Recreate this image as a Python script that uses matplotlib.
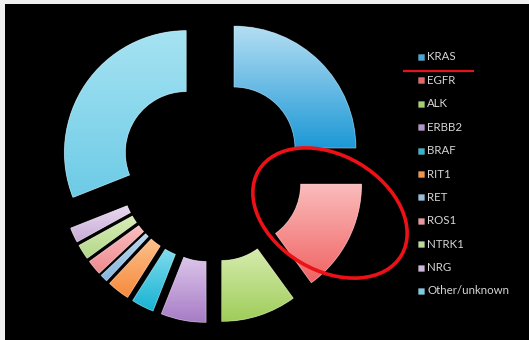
import numpy as np
import matplotlib
matplotlib.use("Agg")
import matplotlib.pyplot as plt
from matplotlib.patches import Ellipse, Rectangle, PathPatch
from matplotlib.colors import LinearSegmentedColormap

# Driver alterations (share of cases, %)
categories = ["KRAS", "EGFR", "ALK", "ERBB2", "BRAF", "RIT1", "RET",
              "ROS1", "NTRK1", "NRG", "Other/unknown"]
shares = [25, 15, 10, 6, 3, 3, 1, 2, 2, 2, 31]

# Slice shading: light tone at the top, deeper tone at the bottom
top_colors = ["#b4def3", "#fbbcbc", "#d6ecae", "#dcc6ea", "#7fdcee", "#fcc08c",
              "#bcd9ef", "#fbbfc1", "#d9edb8", "#ead9f0", "#a6e3f2"]
bottom_colors = ["#1d98d6", "#f06262", "#9fcd5a", "#a77cc6", "#17b2d2", "#f6893a",
                 "#84b6df", "#ee8a8f", "#b3d889", "#c7acd6", "#6dcbe6"]
legend_colors = ["#3ea8de", "#ea6466", "#a5d06a", "#b292cc", "#2ab8d6", "#f39448",
                 "#92bde2", "#ef9498", "#badc98", "#cdb7da", "#76cfe8"]

W, H = 529, 340
fig = plt.figure(figsize=(W / 100, H / 100), dpi=100, facecolor="black")
ax = fig.add_axes([0, 0, 1, 1])
ax.set_facecolor("black")

R = 122
ring = 61
offset = 31
cx, cy = 212, 170

wedges, _ = ax.pie(shares, radius=R, center=(cx, cy), startangle=90,
                   counterclock=False, explode=[offset] * len(shares),
                   wedgeprops=dict(width=ring, linewidth=0), frame=True)

grad = np.linspace(0, 1, 256).reshape(-1, 1)
for w, c_top, c_bot in zip(wedges, top_colors, bottom_colors):
    w.set_facecolor(c_bot)
    path = w.get_path().transformed(w.get_patch_transform())
    ext = path.get_extents()
    cmap = LinearSegmentedColormap.from_list("shade", [c_bot, c_top])
    im = ax.imshow(grad, extent=(ext.x0, ext.x1, ext.y0, ext.y1), origin="lower",
                   cmap=cmap, aspect="auto", interpolation="bilinear", zorder=2)
    im.set_clip_path(w)
    ax.add_patch(PathPatch(path, facecolor="none", edgecolor=(1, 1, 1, 0.35),
                           linewidth=0.7, zorder=3))

# Legend
row0, step = 57, 23.4
for i, (lab, col) in enumerate(zip(categories, legend_colors)):
    y = H - (row0 + i * step)
    ax.add_patch(Rectangle((418, y - 3), 6, 6, facecolor=col,
                           edgecolor=(1, 1, 1, 0.3), linewidth=0.4, zorder=4))
    ax.text(427, y, lab, color="#d6d6d6", fontsize=8.3, va="center", ha="left",
            family="Lato", zorder=4)

# Highlight marks
ax.plot([403, 474], [H - 71, H - 71], color="#e3141c", linewidth=1.6,
        solid_capstyle="butt", zorder=5)
ax.add_patch(Ellipse((330, H - 213), 166, 115, angle=-30.7, facecolor="none",
                     edgecolor="#ec1117", linewidth=2.6, zorder=5))

# Slide border
ax.add_patch(Rectangle((0, H - 4), W, 4, facecolor="#f0f0f0", edgecolor="none", zorder=6))
ax.add_patch(Rectangle((0, 0), 5, H, facecolor="#f0f0f0", edgecolor="none", zorder=6))

ax.set_xlim(0, W)
ax.set_ylim(0, H)
ax.set_aspect("auto")
ax.axis("off")

fig.savefig("out.png", dpi=100, facecolor="black")
